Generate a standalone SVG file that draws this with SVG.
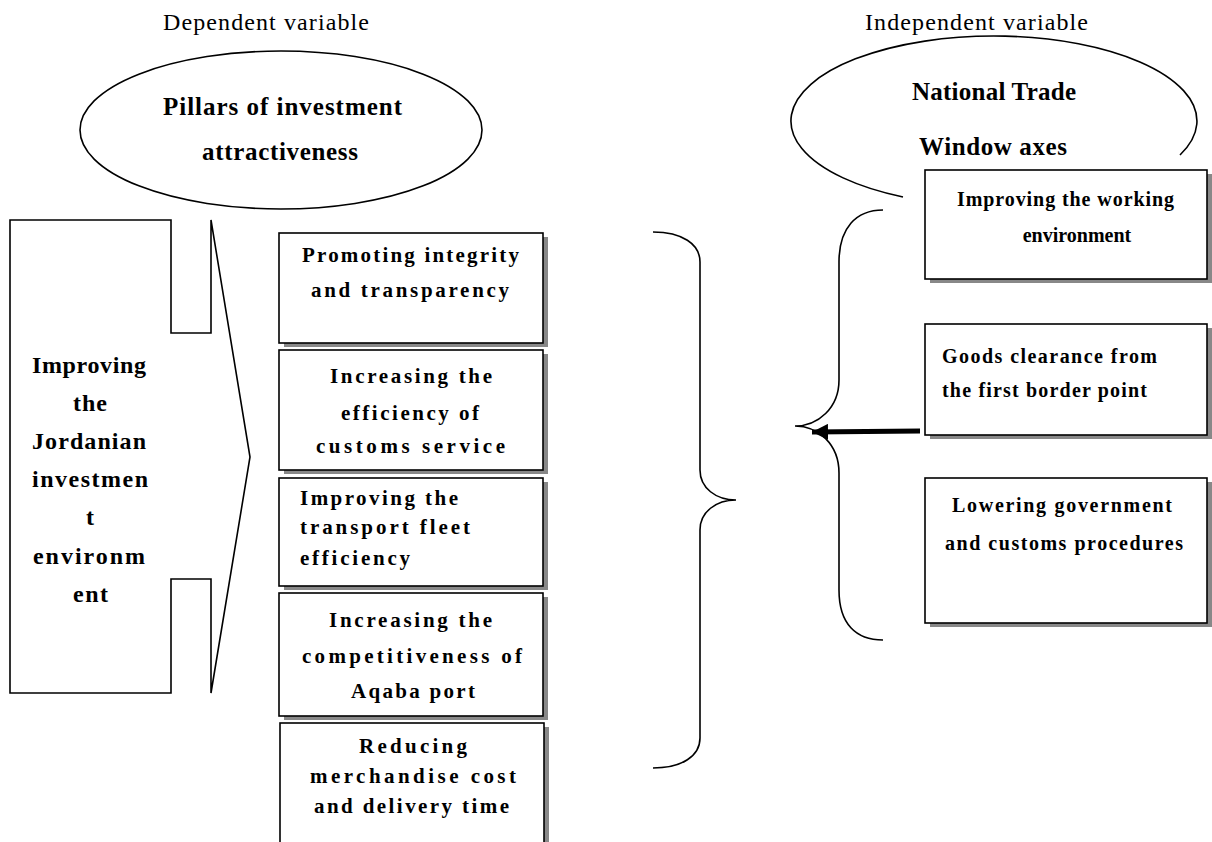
<svg xmlns="http://www.w3.org/2000/svg" width="1212" height="842" viewBox="0 0 1212 842">
<style>
.reg{font-family:"Liberation Serif","Times New Roman",serif;font-size:24px;fill:#000}
.bt{font-family:"Liberation Serif","Times New Roman",serif;font-weight:bold;fill:#000}
.t25{font-size:25px}
.t24{font-size:24px}
.t21{font-size:21px}
.t20{font-size:20px}
.ln{fill:none;stroke:#000;stroke-width:1.6}
.box{fill:#fff;stroke:#000;stroke-width:1.6}
.shd{fill:#888}
</style>
<defs>
<marker id="ah" markerUnits="userSpaceOnUse" markerWidth="18" markerHeight="16" refX="16" refY="8" orient="auto">
<path d="M0,0 L16,8 L0,16 Z" fill="#000"/>
</marker>
</defs>
<rect width="1212" height="842" fill="#fff"/>

<text class="reg" x="163" y="30" textLength="206" lengthAdjust="spacing">Dependent variable</text>
<text class="reg" x="865" y="30" textLength="223" lengthAdjust="spacing">Independent variable</text>

<g id="pillars">
<ellipse class="ln" cx="281" cy="130" rx="201" ry="79"/>
<text class="bt t25" x="163" y="115" textLength="239" lengthAdjust="spacing">Pillars of investment</text>
<text class="bt t25" x="202" y="160" textLength="156" lengthAdjust="spacing">attractiveness</text>
</g>

<g id="ntw">
<path class="ln" d="M 903 197 A 203 85 0 1 1 1180 155"/>
<text class="bt t25" x="912" y="100" textLength="164" lengthAdjust="spacing">National Trade</text>
<text class="bt t25" x="919" y="155" textLength="148" lengthAdjust="spacing">Window axes</text>
</g>

<g id="jordan">
<path class="ln" d="M 10 220 L 171 220 L 171 333 L 211 333 L 211 220 L 250 457 L 211 693 L 211 579 L 171 579 L 171 693 L 10 693 Z"/>
<text class="bt t24" x="32" y="373" textLength="114" lengthAdjust="spacing">Improving</text>
<text class="bt t24" x="73" y="411" textLength="34" lengthAdjust="spacing">the</text>
<text class="bt t24" x="32" y="449" textLength="114" lengthAdjust="spacing">Jordanian</text>
<text class="bt t24" x="32" y="487" textLength="116" lengthAdjust="spacing">investmen</text>
<text class="bt t24" x="90" y="525" text-anchor="middle">t</text>
<text class="bt t24" x="33" y="564" textLength="112" lengthAdjust="spacing">environm</text>
<text class="bt t24" x="73" y="602" textLength="35" lengthAdjust="spacing">ent</text>
</g>

<g id="p1">
<rect class="shd" x="284" y="237" width="264" height="110"/>
<rect class="box" x="279" y="233" width="264" height="110"/>
<text class="bt t21" x="302" y="262" textLength="217" lengthAdjust="spacing">Promoting integrity</text>
<text class="bt t21" x="311" y="297" textLength="198" lengthAdjust="spacing">and transparency</text>
</g>
<g id="p2">
<rect class="shd" x="284" y="354" width="264" height="120"/>
<rect class="box" x="279" y="350" width="264" height="120"/>
<text class="bt t21" x="330" y="383" textLength="162" lengthAdjust="spacing">Increasing the</text>
<text class="bt t21" x="341" y="420" textLength="138" lengthAdjust="spacing">efficiency of</text>
<text class="bt t21" x="316" y="453" textLength="189" lengthAdjust="spacing">customs service</text>
</g>
<g id="p3">
<rect class="shd" x="284" y="482" width="264" height="108"/>
<rect class="box" x="279" y="478" width="264" height="108"/>
<text class="bt t21" x="300" y="505" textLength="158" lengthAdjust="spacing">Improving the</text>
<text class="bt t21" x="300" y="534" textLength="170" lengthAdjust="spacing">transport fleet</text>
<text class="bt t21" x="300" y="565" textLength="110" lengthAdjust="spacing">efficiency</text>
</g>
<g id="p4">
<rect class="shd" x="284" y="597" width="264" height="123"/>
<rect class="box" x="279" y="593" width="264" height="123"/>
<text class="bt t21" x="329" y="627" textLength="163" lengthAdjust="spacing">Increasing the</text>
<text class="bt t21" x="302" y="663" textLength="220" lengthAdjust="spacing">competitiveness of</text>
<text class="bt t21" x="351" y="698" textLength="124" lengthAdjust="spacing">Aqaba port</text>
</g>
<g id="p5">
<rect class="shd" x="285" y="727" width="264" height="130"/>
<rect class="box" x="280" y="723" width="264" height="130"/>
<text class="bt t21" x="359" y="753" textLength="108" lengthAdjust="spacing">Reducing</text>
<text class="bt t21" x="310" y="783" textLength="206" lengthAdjust="spacing">merchandise cost</text>
<text class="bt t21" x="314" y="813" textLength="195" lengthAdjust="spacing">and delivery time</text>
</g>

<g id="a1">
<rect class="shd" x="930" y="174" width="282" height="109"/>
<rect class="box" x="925" y="170" width="282" height="109"/>
<text class="bt t20" x="957" y="206" textLength="217" lengthAdjust="spacing">Improving the working</text>
<text class="bt t20" x="1077" y="242" text-anchor="middle">environment</text>
</g>
<g id="a2">
<rect class="shd" x="930" y="328" width="282" height="111"/>
<rect class="box" x="925" y="324" width="282" height="111"/>
<text class="bt t20" x="942" y="363" textLength="215" lengthAdjust="spacing">Goods clearance from</text>
<text class="bt t20" x="942" y="397" textLength="205" lengthAdjust="spacing">the first border point</text>
</g>
<g id="a3">
<rect class="shd" x="930" y="482" width="282" height="145"/>
<rect class="box" x="925" y="478" width="282" height="145"/>
<text class="bt t20" x="952" y="512" textLength="220" lengthAdjust="spacing">Lowering government</text>
<text class="bt t20" x="945" y="550" textLength="238" lengthAdjust="spacing">and customs procedures</text>
</g>

<g id="connectors">
<path class="ln" d="M 653 232 C 682 232 700 244 700 262 L 700 470 C 700 488 716 500 736 500 C 716 500 700 512 700 530 L 700 738 C 700 756 682 768 653 768"/>
<path class="ln" d="M 883 210 C 856 210 839 228 839 262 L 839 380 C 839 408 818 426 795 426 C 818 426 839 444 839 473 L 839 590 C 839 624 856 640 883 640"/>
<line x1="920" y1="431" x2="812" y2="432" stroke="#000" stroke-width="5" marker-end="url(#ah)"/>
</g>
</svg>
